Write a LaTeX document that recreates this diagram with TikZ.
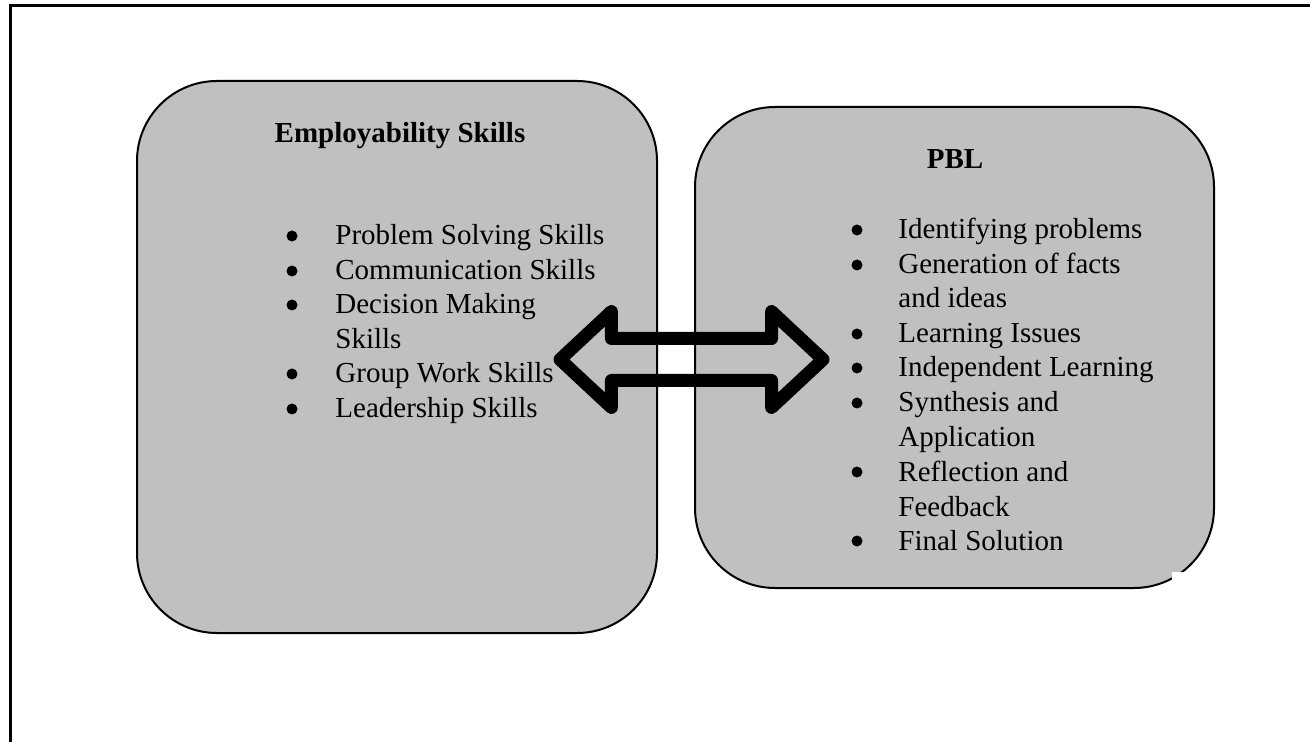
\documentclass[tikz,border=0pt]{standalone}
\usepackage{fontspec}
\setmainfont{Liberation Serif}
\usetikzlibrary{shapes.arrows}
\definecolor{boxgray}{RGB}{192,192,192}
\tikzset{box/.style={draw=black, line width=1pt, fill=boxgray, rounded corners=40pt, inner sep=0pt}}
\tikzset{head/.style={font=\fontsize{14.5}{17}\selectfont\bfseries, anchor=base, inner sep=0pt}}
\tikzset{item/.style={font=\fontsize{14.5}{17}\selectfont, anchor=base west, inner sep=0pt}}
\tikzset{dblarrow/.style={double arrow, draw=black, line width=6.5pt, line join=round,
  inner xsep=0pt, inner ysep=7.25pt, double arrow tip angle=86, double arrow head extend=13.5pt}}

\begin{document}
\begin{tikzpicture}[x=0.5pt, y=-0.5pt]
\useasboundingbox (0,0) rectangle (1310,742);
\draw[line width=1.5pt] (10,742)--(10,6)--(1310,6);
\node (emp) at (397,357) [box, minimum width=260pt, minimum height=276pt] {};
\node (pbl) at (954.5,347.5) [box, minimum width=259.5pt, minimum height=240.5pt] {};
\fill[white] (1172,572) rectangle (1186,581);
\node (emphead) at (400,143) [head] {Employability Skills};
\node (pblhead) at (955,169) [head] {PBL};
\foreach \y/\txt [count=\i] in {245/Problem Solving Skills, 280/Communication Skills, 314/Decision Making,
  349/Skills, 383/Group Work Skills, 418/Leadership Skills}
  \node (e\i) at (335,\y) [item] {\txt};
\foreach \y in {245,280,314,383,418}
  \fill (292,\y-9) circle (5.5);
\foreach \y/\txt [count=\i] in {239/Identifying problems, 274/Generation of facts, 308/and ideas,
  343/Learning Issues, 377/Independent Learning, 412/Synthesis and, 447/Application,
  481/Reflection and, 516/Feedback, 550/Final Solution}
  \node (p\i) at (898,\y) [item] {\txt};
\foreach \y in {239,274,343,377,412,481,550}
  \fill (857,\y-9) circle (5.5);
\node (link) at (691.5,359.5) [dblarrow, minimum height=131.5pt] {};
\end{tikzpicture}
\end{document}
